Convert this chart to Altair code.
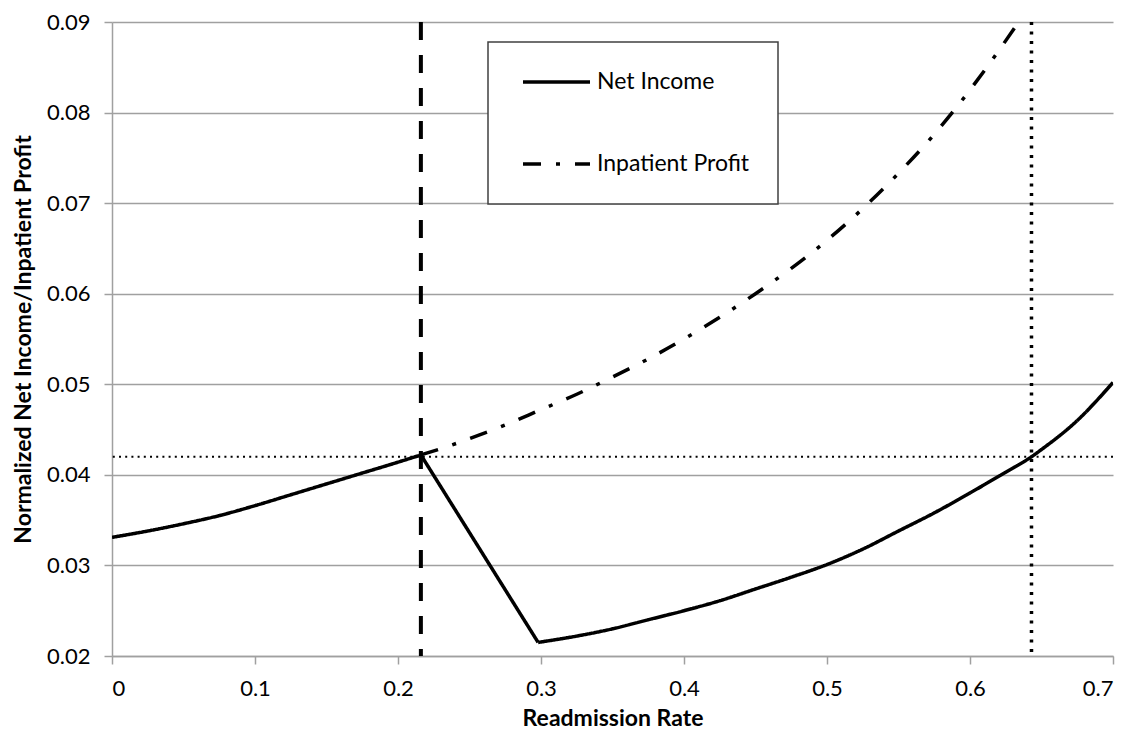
import altair as alt
import pandas as pd

# ---- data ----
series_names = ["Net Income", "Inpatient Profit"]

# Net Income, in three pieces (rising, falling, rising again)
ni_rate_a = [0.0, 0.025, 0.05, 0.075, 0.1, 0.125, 0.15, 0.175, 0.2, 0.216]
ni_value_a = [0.0331, 0.0338, 0.0346, 0.0355, 0.0366, 0.0378, 0.0390, 0.0402, 0.0414, 0.0422]
ni_rate_b = [0.216, 0.298]
ni_value_b = [0.0422, 0.0215]
ni_rate_c = [0.298, 0.325, 0.35, 0.375, 0.4, 0.425, 0.45, 0.475, 0.5, 0.525,
             0.55, 0.575, 0.6, 0.625, 0.643, 0.65, 0.675, 0.7]
ni_value_c = [0.0215, 0.0222, 0.0230, 0.0240, 0.0250, 0.0261, 0.0274, 0.0287, 0.0301, 0.0318,
              0.0338, 0.0358, 0.0380, 0.0403, 0.0420, 0.0428, 0.0460, 0.0502]

ip_rate = [0.216, 0.234, 0.25, 0.275, 0.3, 0.325, 0.35, 0.375, 0.4, 0.425,
           0.45, 0.475, 0.5, 0.525, 0.55, 0.575, 0.6, 0.615, 0.634]
ip_value = [0.0422, 0.0431, 0.0440, 0.0455, 0.0472, 0.0489, 0.0508, 0.0528, 0.0550, 0.0574,
            0.0600, 0.0628, 0.0659, 0.0694, 0.0733, 0.0776, 0.0825, 0.0857, 0.0900]

threshold_rate = [0.216]
breakeven_rate = [0.643]
threshold_value = [0.042]

x_ticks = [0.0, 0.1, 0.2, 0.3, 0.4, 0.5, 0.6, 0.7]
y_ticks = [0.02, 0.03, 0.04, 0.05, 0.06, 0.07, 0.08, 0.09]

df = pd.concat([
    pd.DataFrame({"rate": ni_rate_a, "value": ni_value_a, "series": series_names[0], "seg": "a"}),
    pd.DataFrame({"rate": ni_rate_b, "value": ni_value_b, "series": series_names[0], "seg": "b"}),
    pd.DataFrame({"rate": ni_rate_c, "value": ni_value_c, "series": series_names[0], "seg": "c"}),
    pd.DataFrame({"rate": ip_rate, "value": ip_value, "series": series_names[1], "seg": "d"}),
], ignore_index=True)

FONT = "Lato"

x_scale = alt.Scale(domain=[0, 0.7], nice=False, zero=False)
y_scale = alt.Scale(domain=[0.02, 0.09], nice=False, zero=False)

x_axis = alt.Axis(values=x_ticks, format=".1~f", title="Readmission Rate", grid=False,
                  titleY=62, titleBaseline="middle")
y_axis = alt.Axis(values=y_ticks, format=".2f", title="Normalized Net Income/Inpatient Profit",
                  grid=True, titleX=-89, titleBaseline="middle", titleAngle=-90)

legend = alt.Legend(
    title=None, orient="none", legendX=376, legendY=20, direction="vertical",
    symbolType="stroke", symbolSize=4489, symbolStrokeWidth=3.5, symbolStrokeColor="black",
    labelFont=FONT, labelFontSize=23, labelColor="black",
    padding=28, clipHeight=24, rowPadding=58, symbolOffset=5, labelOffset=5,
    fillColor="white", strokeColor="#404040",
)

lines = alt.Chart(df).mark_line(color="black", strokeWidth=3.5, clip=True,
                                interpolate="monotone").encode(
    x=alt.X("rate:Q", scale=x_scale, axis=x_axis),
    y=alt.Y("value:Q", scale=y_scale, axis=y_axis),
    strokeDash=alt.StrokeDash(
        "series:N",
        scale=alt.Scale(domain=series_names, range=[[1, 0], [18, 15, 4, 15]]),
        legend=legend,
        sort=series_names,
    ),
    detail="seg:N",
)

vdash = alt.Chart(pd.DataFrame({"rate": threshold_rate})).mark_rule(
    color="black", strokeWidth=4, strokeDash=[18, 15]
).encode(x=alt.X("rate:Q", scale=x_scale))

vdot = alt.Chart(pd.DataFrame({"rate": breakeven_rate})).mark_rule(
    color="black", strokeWidth=3.5, strokeDash=[3, 6.5]
).encode(x=alt.X("rate:Q", scale=x_scale))

hdot = alt.Chart(pd.DataFrame({"value": threshold_value})).mark_rule(
    color="black", strokeWidth=2, strokeDash=[2, 4.2]
).encode(y=alt.Y("value:Q", scale=y_scale))

chart = alt.layer(hdot, vdash, vdot, lines).properties(
    width=1001, height=634,
    autosize=alt.AutoSizeParams(type="none"),
    padding={"left": 104, "top": 14, "right": 14, "bottom": 75},
    background="white",
).configure_view(stroke=None).configure_axis(
    labelFont=FONT, labelFontSize=22, labelColor="black", labelPadding=14,
    titleFont=FONT, titleFontSize=23, titleFontWeight="bold", titleColor="black",
    gridColor="#a0a0a0", gridWidth=1.5,
    domainColor="#a0a0a0", domainWidth=1.5,
    tickColor="#a0a0a0", tickWidth=1.5, tickSize=8,
).configure_legend(strokeWidth=1.5)

chart.save("out.html", embed_options={"renderer": "svg", "actions": False})
